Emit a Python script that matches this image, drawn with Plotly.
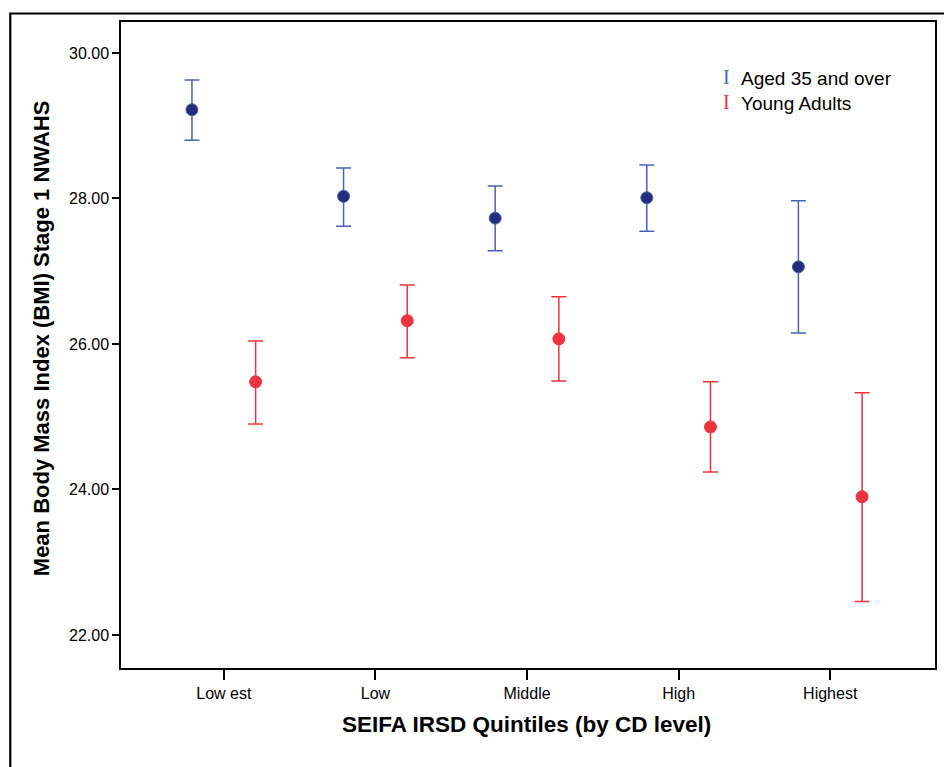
import plotly.graph_objects as go

# Quintile categories and group means with 95% CI bounds
quintiles = ["Low est", "Low", "Middle", "High", "Highest"]

older_mean = [29.22, 28.03, 27.73, 28.01, 27.06]
older_low = [28.80, 27.62, 27.28, 27.55, 26.15]
older_high = [29.63, 28.42, 28.17, 28.46, 27.97]

young_mean = [25.48, 26.32, 26.07, 24.86, 23.90]
young_low = [24.90, 25.81, 25.49, 24.24, 22.46]
young_high = [26.04, 26.81, 26.65, 25.48, 25.33]

y_ticks = [22, 24, 26, 28, 30]

BLUE_BAR = "#4a62b6"
BLUE_DOT = "#262b7c"
RED = "#ee3340"
FONT = "Liberation Sans, Arial, sans-serif"

offset = 0.21
idx = list(range(len(quintiles)))


def series(means, lows, highs, shift, bar_color, dot_color, name):
    return go.Scatter(
        x=[i + shift for i in idx],
        y=means,
        mode="markers",
        name=name,
        showlegend=False,
        marker=dict(size=12, color=dot_color,
                    line=dict(color=bar_color, width=1)),
        error_y=dict(
            type="data",
            symmetric=False,
            array=[h - m for h, m in zip(highs, means)],
            arrayminus=[m - l for m, l in zip(means, lows)],
            color=bar_color,
            thickness=1.5,
            width=7.5,
        ),
    )


fig = go.Figure()
fig.add_trace(series(older_mean, older_low, older_high, -offset,
                     BLUE_BAR, BLUE_DOT, "Aged 35 and over"))
fig.add_trace(series(young_mean, young_low, young_high, offset,
                     RED, RED, "Young Adults"))

W, H = 944, 767
L, T, R, B = 121, 22, 7, 99
pw, ph = W - L - R, H - T - B


def px_x(x):
    return (x - L) / pw


def px_y(y):
    return (H - B - y) / ph


annotations = [
    dict(text="<b>Mean Body Mass Index (BMI) Stage 1 NWAHS</b>",
         x=px_x(41), y=px_y(338), xref="paper", yref="paper",
         textangle=-90, showarrow=False, xanchor="center", yanchor="middle",
         font=dict(family=FONT, size=22, color="black")),
    dict(text="<b>SEIFA IRSD Quintiles (by CD level)</b>",
         x=px_x(527.5), y=px_y(725), xref="paper", yref="paper",
         showarrow=False, xanchor="center", yanchor="middle",
         font=dict(family=FONT, size=22.5, color="black")),
]

# Legend: I-beam glyphs with series labels
legend_items = [("Aged 35 and over", BLUE_BAR, 78), ("Young Adults", RED, 103)]
for label, color, ypix in legend_items:
    annotations.append(dict(
        text="I", x=px_x(728), y=px_y(ypix - 1), xref="paper", yref="paper",
        showarrow=False, xanchor="center", yanchor="middle",
        font=dict(family="Liberation Serif, serif", size=20, color=color)))
    annotations.append(dict(
        text=label, x=px_x(741), y=px_y(ypix), xref="paper", yref="paper",
        showarrow=False, xanchor="left", yanchor="middle",
        font=dict(family=FONT, size=19, color="black")))

fig.update_layout(
    width=W, height=H,
    margin=dict(l=L, r=R, t=T, b=B),
    paper_bgcolor="white",
    plot_bgcolor="white",
    font=dict(family=FONT, color="black"),
    annotations=annotations,
    shapes=[dict(type="rect", xref="paper", yref="paper",
                 x0=px_x(10), x1=px_x(960), y0=px_y(780), y1=px_y(13.5),
                 line=dict(color="black", width=2.2), layer="below")],
)

fig.update_xaxes(
    range=[-0.678, 4.691],
    tickmode="array", tickvals=idx, ticktext=quintiles,
    ticks="outside", ticklen=10, tickwidth=1.5, tickcolor="black",
    tickfont=dict(family=FONT, size=16, color="black"),
    showline=True, linecolor="black", linewidth=1.5, mirror=True,
    showgrid=False, zeroline=False,
)
fig.update_yaxes(
    range=[21.546, 30.426],
    tickmode="array", tickvals=y_ticks,
    ticktext=[f"{v:.2f}" for v in y_ticks],
    ticks="outside", ticklen=7, tickwidth=1.5, tickcolor="black",
    tickfont=dict(family=FONT, size=16, color="black"),
    showline=True, linecolor="black", linewidth=1.5, mirror=True,
    showgrid=False, zeroline=False,
)

fig.write_html("out.html")
